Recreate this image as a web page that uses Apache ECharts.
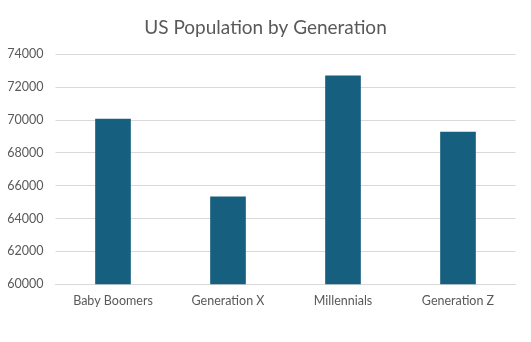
<!DOCTYPE html>
<html>
<head>
<meta charset="utf-8">
<script src="https://cdn.jsdelivr.net/npm/echarts@6/dist/echarts.min.js"></script>
<style>
  html, body { margin: 0; padding: 0; background: #ffffff; }
  #chart { width: 531px; height: 342px; }
</style>
</head>
<body>
<div id="chart"></div>
<script>
// Generations shown along the x axis
const generations = ['Baby Boomers', 'Generation X', 'Millennials', 'Generation Z'];
// Population (thousands) for each generation
const population = [70070, 65330, 72700, 69270];
// Value axis range
const yMin = 60000;
const yMax = 74000;
const yStep = 2000;

const chart = echarts.init(document.getElementById('chart'), null, { renderer: 'canvas' });
const textColor = '#595959';
const fontFamily = 'Lato, "Open Sans", sans-serif';

chart.setOption({
  backgroundColor: '#ffffff',
  animation: false,
  title: {
    text: 'US Population by Generation',
    left: 'center',
    top: 13,
    textStyle: { color: textColor, fontSize: 19, fontWeight: 'normal', fontFamily: fontFamily }
  },
  grid: { left: 55.5, right: 15.5, top: 54, bottom: 57.7, containLabel: false },
  xAxis: {
    type: 'category',
    data: generations,
    axisLine: { show: true, lineStyle: { color: '#d9d9d9', width: 1 } },
    axisTick: { show: false },
    axisLabel: { color: textColor, fontSize: 12.5, fontFamily: fontFamily, margin: 10 }
  },
  yAxis: {
    type: 'value',
    min: yMin,
    max: yMax,
    interval: yStep,
    axisLine: { show: false },
    axisTick: { show: false },
    axisLabel: {
      color: textColor, fontSize: 12.5, fontFamily: fontFamily, margin: 12,
      formatter: function (v) { return String(v); }
    },
    splitLine: { lineStyle: { color: '#d9d9d9', width: 1 } }
  },
  series: [{
    type: 'bar',
    data: population,
    barWidth: '31%',
    itemStyle: { color: '#175f7f' }
  }]
});
</script>
</body>
</html>
